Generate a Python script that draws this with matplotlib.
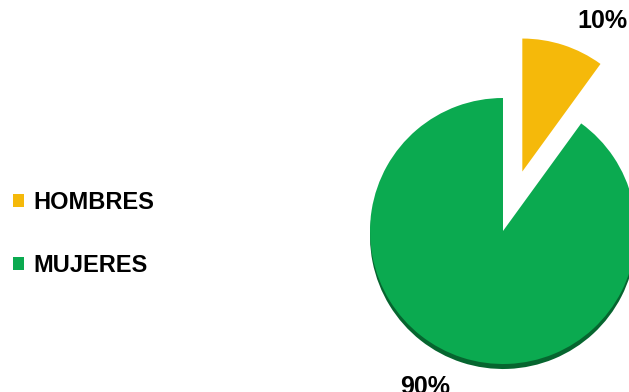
import matplotlib
matplotlib.use("Agg")
import matplotlib.pyplot as plt
from matplotlib.patches import Wedge

categories = ["HOMBRES", "MUJERES"]
values = [10, 90]
labels_pct = ["10%", "90%"]
colors = ["#F5B90A", "#0BAA50"]

W, H = 629, 392
fig = plt.figure(figsize=(W / 100, H / 100), dpi=100)
ax = fig.add_axes([0, 0, 1, 1])

cx, cy, r = 503, 161, 133
explode = [0.47 * r, 0]

# shadow under the green slice
total = sum(values)
a_start = 90 - 360 * values[0] / total
ax.add_patch(Wedge((cx, cy - 5), r, 90 - 360, a_start, facecolor="#06652f", edgecolor="none", zorder=1))

wedges, _ = ax.pie(values, colors=colors, startangle=90, counterclock=False,
                   explode=explode, radius=r, center=(cx, cy), frame=True,
                   wedgeprops=dict(edgecolor="none", zorder=2))
ax.set_xlim(0, W)
ax.set_ylim(0, H)
ax.set_aspect("equal")
ax.axis("off")

txt = dict(fontsize=18, fontweight="bold", family=["Liberation Sans", "DejaVu Sans"], color="black")
ax.text(602, H - 28, labels_pct[0], ha="center", va="baseline", **txt)
ax.text(425, H - 394, labels_pct[1], ha="center", va="baseline", **txt)

leg = ax.legend(wedges, categories, loc="upper left", bbox_to_anchor=(13 / W, 1 - 191 / H),
                frameon=False, borderpad=0, borderaxespad=0,
                handlelength=0.47, handleheight=0.47, handletextpad=0.38,
                labelspacing=1.7, prop=dict(size=17, weight="bold", family="Liberation Sans"))

fig.savefig("out.png", dpi=100)
